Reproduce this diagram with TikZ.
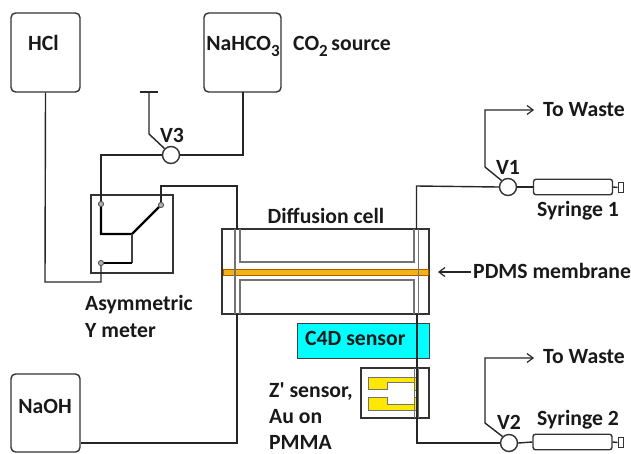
\documentclass[tikz,border=0pt]{standalone}
\usepackage{fontspec}
\setmainfont{Carlito}
\newfontfamily\plainfam{Carlito}
\usetikzlibrary{arrows.meta}
\definecolor{cellcyan}{RGB}{0,255,255}
\definecolor{goldfilm}{RGB}{255,232,0}
\definecolor{membrane}{RGB}{240,180,20}
\newcommand{\lowsub}[1]{\raisebox{-0.3em}{\fontsize{17}{17}\selectfont #1}}
\tikzset{
  wire/.style={draw=black!85, line width=1.4pt},
  outline/.style={draw=black!80, line width=1.4pt},
  pipe/.style={draw=black!55, line width=1.2pt},
  lab/.style={inner sep=0pt, anchor=base, font=\fontsize{21.7}{24}\selectfont\bfseries, text=black!90},
  labw/.style={lab, anchor=base west},
  reagent/.style={outline, rounded corners=4.5pt, inner sep=0pt},
  valve/.style={circle, outline, fill=white, minimum size=17pt, inner sep=0pt},
  port/.style={circle, draw=black!70, fill=black!30, line width=.7pt, minimum size=5pt, inner sep=0pt},
  barrel/.style={outline, rounded corners=2.5pt, fill=white, minimum width=79pt, minimum height=15.5pt, inner sep=0pt},
  plunger/.style={outline, line width=1pt, fill=white, minimum width=5pt, minimum height=10pt, inner sep=0pt},
  tip/.style={-{Straight Barb[length=6pt,width=9pt,line width=1.2pt]}}
}
\begin{document}
\begin{tikzpicture}[x=1pt,y=-1pt]
\useasboundingbox (0,0) rectangle (631,453);
% reagents
\node[reagent, minimum width=69pt, minimum height=79pt] (hcl) at (45.5,52.5) {};
\node[lab] (hcltxt) at (43.5,50) {HCl};
\node[reagent, minimum width=77pt, minimum height=79pt] (nahco) at (242.5,52.5) {};
\node[lab] (nahcotxt) at (243,50) {NaHCO\lowsub{3}};
\node[labw] (cosrc) at (293,50) {CO\lowsub{2}\,source};
\node[reagent, minimum width=69pt, minimum height=78pt] (naoh) at (45.5,413) {};
\node[lab] (naohtxt) at (45,413) {NaOH};
% valves
\coordinate (vent) at (149,92);
\coordinate (ventl) at (140,92);
\coordinate (ventr) at (158,92);
\coordinate (ventk) at (149,134);
\node[valve] (v3) at (171,155) {};
\node[lab] (v3txt) at (172,142) {V3};
\node[valve] (v1) at (508,187) {};
\node[lab] (v1txt) at (508,174) {V1};
\node[valve] (v2) at (509,443) {};
\node[lab] (v2txt) at (509,429) {V2};
% Y meter
\node[outline, minimum width=82pt, minimum height=78pt, inner sep=0pt] (meter) at (132,234) {};
\node[port] (pa) at (101,204) {};
\node[port] (pb) at (161,205) {};
\node[port] (pc) at (101,263) {};
\coordinate (ja) at (132,234);
\coordinate (jb) at (132,263);
\node[labw] (asy) at (85,310) {Asymmetric};
\node[labw] (ymet) at (85,337) {Y meter};
% diffusion cell
\node[outline, minimum width=207pt, minimum height=85pt, inner sep=0pt] (cell) at (325.5,271.5) {};
\fill[membrane] (223,269) rectangle (428,275);
\draw[draw=orange!70!black, line width=.5pt] (223,269) rectangle (428,275);
\draw[pipe] (235,229) -- (235,314);
\draw[pipe] (240,229) -- (240,262) -- (414,262) -- (414,229);
\draw[pipe] (240,314) -- (240,280) -- (414,280) -- (414,314);
\draw[pipe, line width=.9pt] (418.5,229) -- (418.5,314);
\node[lab] (dlab) at (326,223) {Diffusion cell};
\node[labw] (pdms) at (473,278) {PDMS membrane};
\coordinate (mem) at (438,272);
\coordinate (memr) at (471,272);
% C4D
\node[draw=black!75, line width=1pt, fill=cellcyan, minimum width=132pt, minimum height=35pt, inner sep=0pt] (c4d) at (363,340.5) {};
\node[labw] (c4dtxt) at (305,345) {C4D sensor};
% Z' sensor
\node[outline, minimum width=68pt, minimum height=50pt, inner sep=0pt] (zbox) at (395,393) {};
\filldraw[fill=goldfilm, draw=black!55, line width=.7pt] (368,377) -- (418,377) -- (418,390) -- (414,390) -- (414,382) -- (387,382) -- (387,389) -- (368,389) -- cycle;
\filldraw[fill=goldfilm, draw=black!55, line width=.7pt] (368,397) -- (387,397) -- (387,404) -- (414,404) -- (414,397) -- (418,397) -- (418,410) -- (368,410) -- cycle;
\draw[pipe, line width=.9pt] (414,368) -- (414,418);
\draw[pipe, line width=.9pt] (418.5,368) -- (418.5,418);
\node[labw] (zl1) at (269,397) {{\plainfam\bfseries Z'} sensor,};
\node[labw] (zl2) at (269,423.5) {Au on};
\node[labw] (zl3) at (269,449.5) {PMMA};
% syringes
\node[barrel] (s1) at (573,187) {};
\node[plunger] (p1) at (620.5,187.5) {};
\node[lab] (s1txt) at (578,216) {Syringe 1};
\node[barrel] (s2) at (572.5,442) {};
\node[plunger] (p2) at (620.5,442.5) {};
\node[lab] (s2txt) at (578,425) {Syringe 2};
\draw[wire] (v1.east) -- (s1.west);
\draw[wire] (s1.east) -- (p1.west);
\draw[wire] (v2.east) -- (s2.west);
\draw[wire] (s2.east) -- (p2.west);
% waste
\node[labw] (w1) at (543,116) {To Waste};
\node[labw] (w2) at (543,363) {To Waste};
\coordinate (w1end) at (534,110);
\coordinate (w2end) at (534,358);
% wires
\draw[wire] (ventl) -- (ventr);
\draw[wire] (vent) -- (ventk) -- (v3.135);
\draw[wire] (243,92) -- (243,155) -- (v3.east);
\draw[wire] (v3.west) -- (101,155) -- (pa.north);
\draw[wire] (hcl.south) -- (45,282) -- (101,282) -- (pc.south);
\draw[wire] (pb.north) -- (161,186) -- (237,186) -- (237,229);
\draw[wire] (237,314) -- (237,443) -- (naoh.east |- 0,443);
\draw[wire] (416.5,229) -- (416.5,186) -- (v1.west);
\draw[wire] (417,314) -- (417,443) -- (v2.west);
\draw[wire, tip] (v1.135) -- (485,167) -- (485,110) -- (w1end);
\draw[wire, tip] (v2.135) -- (485,423) -- (485,358) -- (w2end);
\draw[wire, tip] (memr) -- (mem);
% Y meter internals
\draw[black, line width=2.2pt] (pa) -- (101,234) -- (ja) -- (pb);
\draw[black!75, line width=1.1pt] (ja) -- (jb);
\draw[black, line width=2.2pt] (jb) -- (pc);
\node[port] at (pa) {};
\node[port] at (pb) {};
\node[port] at (pc) {};
\end{tikzpicture}
\end{document}
